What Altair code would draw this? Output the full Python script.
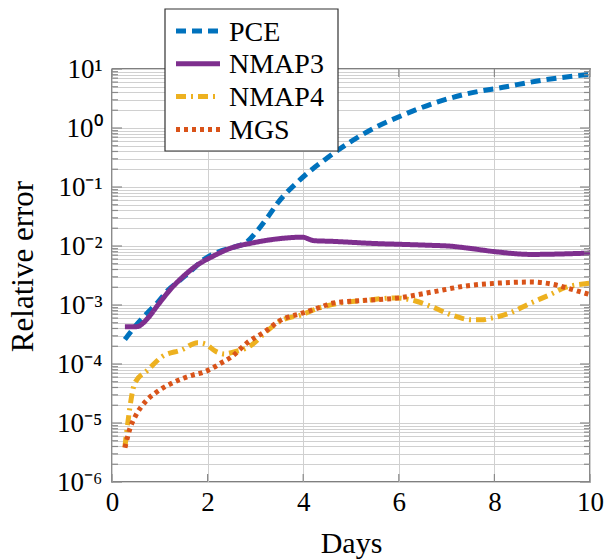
import altair as alt
import pandas as pd

series_names = ["PCE", "NMAP3", "NMAP4", "MGS"]
series_colors = ["#0072BD", "#7E2F8E", "#EDB120", "#D95319"]
series_dashes = [[10, 6], [1, 0], [10, 5, 2, 5], [4, 4]]

pce_x = [0.27, 0.48, 0.73, 0.96, 1.17, 1.42, 1.67, 1.9, 2.22, 2.53, 2.82, 3.05, 3.26, 3.47,
         3.93, 4.5, 4.98, 5.54, 6.09, 6.8, 7.49, 8.18, 9.02, 10.0]
pce_y = [2.6e-4, 4.3e-4, 7.2e-4, 1.12e-3, 1.78e-3, 2.63e-3, 3.9e-3, 5.75e-3, 7.9e-3, 9.5e-3,
         1.17e-2, 1.86e-2, 3.1e-2, 5.4e-2, 0.132, 0.31, 0.575, 1.05, 1.66, 2.75, 3.9, 4.9, 6.5, 8.1]

nmap3_x = [0.27, 0.52, 0.75, 0.96, 1.25, 1.52, 1.79, 2.08, 2.5, 2.92, 3.46, 3.98, 4.23, 4.6,
           5.52, 6.0, 6.77, 7.04, 7.4, 8.08, 8.77, 10.0]
nmap3_y = [4.3e-4, 4.3e-4, 6.0e-4, 1.0e-3, 1.95e-3, 3.2e-3, 4.8e-3, 6.5e-3, 9.3e-3, 1.12e-2,
           1.32e-2, 1.41e-2, 1.23e-2, 1.2e-2, 1.1e-2, 1.07e-2, 1.02e-2, 1.0e-2, 9.3e-3, 7.9e-3,
           7.2e-3, 7.6e-3]

nmap4_x = [0.27, 0.33, 0.48, 0.75, 1.04, 1.46, 1.79, 1.94, 2.18, 2.35, 2.53, 2.92, 3.22, 3.57,
           3.96, 4.33, 4.75, 5.31, 5.93, 6.35, 6.7, 7.1, 7.52, 7.73, 7.94, 8.3, 8.73, 9.15, 9.5,
           9.9, 10.0]
nmap4_y = [3.9e-6, 1.0e-5, 4.8e-5, 7.9e-5, 1.32e-4, 1.74e-4, 2.3e-4, 2.2e-4, 1.62e-4, 1.48e-4,
           1.58e-4, 2.1e-4, 3.5e-4, 5.6e-4, 6.8e-4, 8.9e-4, 1.07e-3, 1.2e-3, 1.32e-3, 1.17e-3,
           9.3e-4, 6.8e-4, 5.6e-4, 5.6e-4, 6.0e-4, 7.2e-4, 1.05e-3, 1.48e-3, 2.0e-3, 2.3e-3, 2.35e-3]

mgs_x = [0.27, 0.38, 0.48, 0.73, 0.9, 1.27, 1.69, 1.9, 2.1, 2.29, 2.5, 2.83, 3.19, 3.54, 3.96,
         4.38, 4.6, 5.31, 6.0, 6.7, 7.4, 8.08, 8.77, 9.27, 9.6, 9.9, 10.0]
mgs_y = [3.8e-6, 8.3e-6, 1.26e-5, 2.45e-5, 3.2e-5, 4.8e-5, 6.5e-5, 7.2e-5, 8.5e-5, 1.05e-4,
         1.32e-4, 2.3e-4, 3.5e-4, 5.6e-4, 7.2e-4, 9.3e-4, 1.07e-3, 1.2e-3, 1.32e-3, 1.66e-3,
         2.1e-3, 2.35e-3, 2.45e-3, 2.2e-3, 1.86e-3, 1.58e-3, 1.5e-3]

x_ticks = [0, 2, 4, 6, 8, 10]
y_decades = [-6, -5, -4, -3, -2, -1, 0, 1]
y_labels = ["10⁻⁶", "10⁻⁵", "10⁻⁴", "10⁻³", "10⁻²", "10⁻¹", "10⁰", "10¹"]

y_major = [10.0 ** e for e in y_decades]
y_minor = []
for e in y_decades[:-1]:
    for k in range(2, 10):
        y_minor.append(k * 10.0 ** e)
y_grid = sorted(y_major + y_minor)

rows = []
for name, xs, ys in [("PCE", pce_x, pce_y), ("NMAP3", nmap3_x, nmap3_y),
                     ("NMAP4", nmap4_x, nmap4_y), ("MGS", mgs_x, mgs_y)]:
    for xv, yv in zip(xs, ys):
        rows.append({"series": name, "day": xv, "err": yv})
df = pd.DataFrame(rows)

label_arr = "[" + ",".join("'" + s + "'" for s in y_labels) + "]"
lab_expr = ("abs(log(datum.value)/LN10 - round(log(datum.value)/LN10)) < 1e-6 ? "
            + label_arr + "[round(log(datum.value)/LN10)+6] : ''")

FONT = "Liberation Serif, Times New Roman, serif"

xscale = alt.Scale(domain=[0, 10], nice=False)
yscale = alt.Scale(type="log", domain=[1e-6, 10], nice=False)

lines = alt.Chart(df).mark_line(strokeWidth=5, interpolate="monotone", strokeCap="butt").encode(
    x=alt.X("day:Q", scale=xscale,
            axis=alt.Axis(values=x_ticks, title="Days", grid=True, ticks=False, domain=False,
                          labelFontSize=27, labelPadding=7, titleFontSize=30,
                          titleY=61, titleBaseline="middle", labelFlush=False)),
    y=alt.Y("err:Q", scale=yscale,
            axis=alt.Axis(values=y_grid, labelExpr=lab_expr, title="Relative error", grid=True,
                          ticks=False, domain=False, labelFontSize=27, labelPadding=10,
                          titleFontSize=31, titleX=-89, titleY=197, titleAngle=-90,
                          titleAlign="center", titleBaseline="middle", labelFlush=False)),
    color=alt.Color("series:N", scale=alt.Scale(domain=series_names, range=series_colors),
                    legend=None),
    strokeDash=alt.StrokeDash("series:N", scale=alt.Scale(domain=series_names, range=series_dashes),
                              legend=None),
)

# inward tick marks on all four sides
TICK = "#8a8a8a"
ymaj_df = pd.DataFrame({"v": y_major})
ymin_df = pd.DataFrame({"v": y_minor})
xt_df = pd.DataFrame({"v": x_ticks})
tick_layers = []
for d, ln in [(ymaj_df, 10), (ymin_df, 6)]:
    for x0, x1 in [(0, ln), (478, 478 - ln)]:
        tick_layers.append(alt.Chart(d).mark_rule(color=TICK, strokeWidth=1.2).encode(
            y=alt.Y("v:Q", scale=yscale), x=alt.value(x0), x2=alt.value(x1)))
for y0, y1 in [(413, 405), (0, 8)]:
    tick_layers.append(alt.Chart(xt_df).mark_rule(color=TICK, strokeWidth=1.2).encode(
        x=alt.X("v:Q", scale=xscale), y=alt.value(y0), y2=alt.value(y1)))

# legend drawn as a small box in the upper left (layout in pixels relative to plot)
box = alt.Chart(pd.DataFrame({"k": [0]})).mark_rect(
    fill="white", stroke="#333333", strokeWidth=1.2
).encode(x=alt.value(53), x2=alt.value(226), y=alt.value(-60), y2=alt.value(82))

layers = [lines] + tick_layers + [box]
for i, (name, col, dash) in enumerate(zip(series_names, series_colors, series_dashes)):
    src = alt.Chart(pd.DataFrame({"series": [name]}))
    yc = -38 + 32.8 * i
    layers.append(src.mark_rule(color=col, strokeWidth=5, strokeDash=dash, strokeCap="butt").encode(
        x=alt.value(64), x2=alt.value(108), y=alt.value(yc)))
    layers.append(src.mark_text(font=FONT, fontSize=28, align="left", baseline="alphabetic",
                                color="black").encode(
        text="series:N", x=alt.value(117), y=alt.value(yc + 9.5)))

chart = alt.layer(*layers).properties(
    width=478, height=413,
    autosize=alt.AutoSizeParams(type="none"),
    padding={"left": 112, "top": 69, "right": 16, "bottom": 77},
).configure(font=FONT).configure_axis(
    labelFont=FONT, titleFont=FONT, labelColor="black", titleColor="black",
    titleFontWeight="normal", gridColor="#d0d0d0", gridWidth=1,
).configure_view(
    stroke="black", strokeWidth=1.3
)

chart.save("out.html", embed_options={"renderer": "svg", "actions": False})
